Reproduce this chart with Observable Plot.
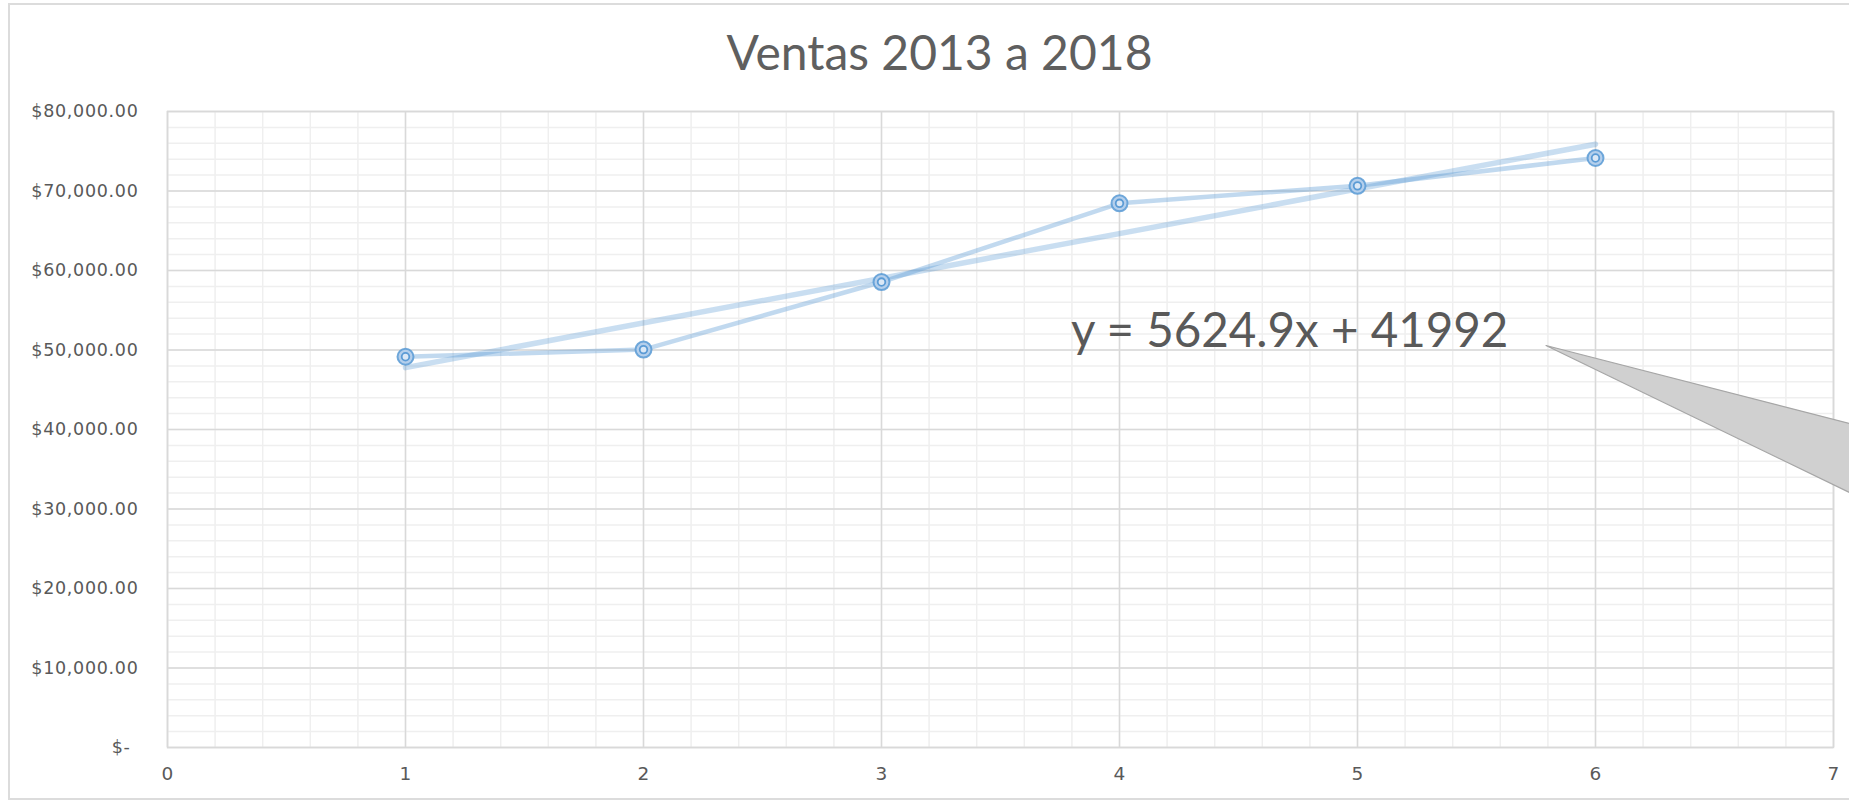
<!DOCTYPE html>
<html>
<head>
<meta charset="utf-8">
<script src="https://cdn.jsdelivr.net/npm/d3@7"></script>
<script src="https://cdn.jsdelivr.net/npm/@observablehq/plot@0.6"></script>
<style>
  html, body { margin: 0; padding: 0; background: #fff; }
  #wrap { position: relative; width: 1849px; height: 803px; overflow: hidden; font-family: Lato, "Open Sans", sans-serif; }
  #border { position: absolute; left: 8px; top: 3px; width: 1900px; height: 797px; border: 2px solid #dcdcdc; box-sizing: border-box; pointer-events: none; }
  #title { height: 90px; padding-top: 13px; text-align: center; font-size: 48px; color: #5f5f5f; padding-left: 30px; box-sizing: border-box; }
  #title span { display: block; line-height: 77px; }
  #chart svg { display: block; }
</style>
</head>
<body>
<div id="wrap">
  <div id="title"><span>Ventas 2013 a 2018</span></div>
  <div id="chart"></div>
  <div id="border"></div>
</div>
<script>
// Data
const periods = [1, 2, 3, 4, 5, 6];
const sales = [49150, 50050, 58550, 68450, 70650, 74150];
const xTicks = [0, 1, 2, 3, 4, 5, 6, 7];
const yTicks = [0, 10000, 20000, 30000, 40000, 50000, 60000, 70000, 80000];
const xMinor = d3.range(0, 7.001, 0.2);
const yMinor = d3.range(0, 80001, 2000);
const trendLabel = "y = 5624.9x + 41992";
const trendLabelPos = [{x: 4.715, y: 52300}];
// callout pointer (data units): tip then the two far corners
const calloutTip = {x: 5.794, y: 50500};
const calloutEnd = {x: 7.07, yTop: 40700, yBottom: 32000};

const data = periods.map((p, i) => ({x: p, y: sales[i]}));
const callout = [
  {x: calloutTip.x, y1: calloutTip.y, y2: calloutTip.y},
  {x: calloutEnd.x, y1: calloutEnd.yTop, y2: calloutEnd.yBottom}
];

const fmt = v => v === 0 ? "$-" : "$" + d3.format(",.2f")(v);

const blue = "#5b9bd5";
const tickFont = "'DejaVu Sans', sans-serif";

const plot = Plot.plot({
  width: 1849,
  height: 713,
  marginTop: 21,
  marginBottom: 56,
  marginLeft: 167,
  marginRight: 16,
  style: {fontFamily: tickFont, fontSize: "17.5px", color: "#595959", background: "transparent", overflow: "visible"},
  x: {domain: [0, 7], label: null},
  y: {domain: [0, 80000], label: null},
  marks: [
    Plot.gridX(xMinor, {stroke: "#efefef", strokeOpacity: 1, strokeWidth: 1.5}),
    Plot.gridY(yMinor, {stroke: "#efefef", strokeOpacity: 1, strokeWidth: 1.5}),
    Plot.gridY(yTicks, {stroke: "#d9d9d9", strokeOpacity: 1, strokeWidth: 1.5}),
    Plot.gridX(xTicks, {stroke: "#d9d9d9", strokeOpacity: 1, strokeWidth: 1.5}),
    Plot.frame({stroke: "#d9d9d9", strokeWidth: 1.5}),
    Plot.axisX(xTicks, {tickSize: 0, tickPadding: 19, tickFormat: d3.format("d"), label: null, fill: "#595959"}),
    Plot.axisY(yTicks.filter(d => d > 0), {tickSize: 0, tickPadding: 29, tickFormat: fmt, label: null, fill: "#595959"}),
    Plot.axisY(yTicks.filter(d => d === 0), {tickSize: 0, tickPadding: 37, tickFormat: fmt, label: null, fill: "#595959"}),
    Plot.linearRegressionY(data, {x: "x", y: "y", ci: 0, stroke: blue, strokeOpacity: 0.33, strokeWidth: 5.5}),
    Plot.line(data, {x: "x", y: "y", stroke: blue, strokeOpacity: 0.38, strokeWidth: 4.5}),
    Plot.dot(data, {x: "x", y: "y", r: 8, fill: "#b4cfec", stroke: blue, strokeWidth: 2, strokeOpacity: 0.85}),
    Plot.dot(data, {x: "x", y: "y", r: 3.8, fill: "#dbe8f6", stroke: blue, strokeWidth: 1.8}),
    Plot.text(trendLabelPos, {x: "x", y: "y", text: () => trendLabel, fontSize: 47.5, fontFamily: "Lato, 'Open Sans', sans-serif", fill: "#595959"}),
    Plot.areaY(callout, {x: "x", y1: "y1", y2: "y2", fill: "#d0d0d0", stroke: "#a6a6a6", strokeWidth: 1.2, clip: false})
  ]
});
d3.select(plot).selectAll('g[aria-label="y-axis tick label"] text').style("letter-spacing", "0.7px");
d3.select(plot).selectAll('g[aria-label="x-axis tick label"] text').style("font-size", "18.5px");
document.getElementById("chart").appendChild(plot);
</script>
</body>
</html>
